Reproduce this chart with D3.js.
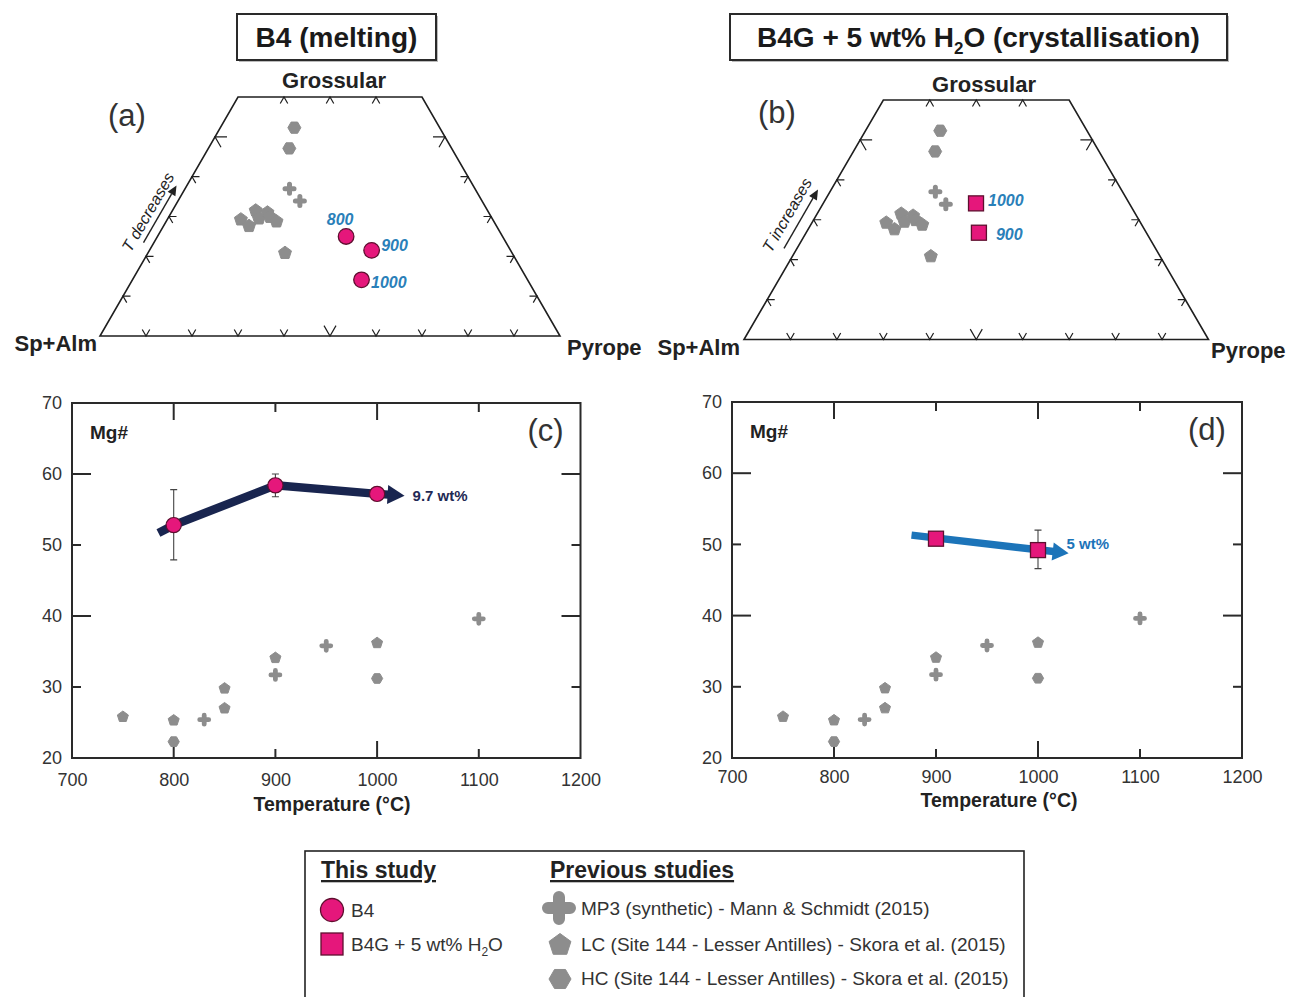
<!DOCTYPE html>
<html><head><meta charset="utf-8">
<script src="https://cdn.jsdelivr.net/npm/d3@7"></script>
<style>
body{margin:0;background:#fff}
svg{display:block}
text{font-family:"Liberation Sans",Arial,Helvetica,sans-serif}
</style>
</head><body><svg id="chart" width="1290" height="997"></svg>
<script>
// ---------------- DATA ----------------
// Mg# vs temperature panels
const mgTicksY = [20, 30, 40, 50, 60, 70];
const mgTicksX = [700, 800, 900, 1000, 1100, 1200];
const mgMajorX = [800, 1000];
const mgMinorX = [900, 1100];
const mgMajorY = [40, 60];
const mgMinorY = [30, 50];

const mp3T = [830, 900, 950, 1100];
const mp3Mg = [25.4, 31.7, 35.8, 39.6];
const lcT = [750, 800, 850, 850, 900, 1000];
const lcMg = [25.8, 25.3, 27.0, 29.8, 34.1, 36.2];
const hcT = [800, 1000];
const hcMg = [22.3, 31.2];

const b4T = [800, 900, 1000];
const b4Mg = [52.8, 58.4, 57.2];
const b4ErrLo = [47.9, 56.8, 56.4];
const b4ErrHi = [57.8, 60.0, 58.0];
const b4ArrowT = [785, 800, 900, 1000, 1027];
const b4ArrowMg = [51.7, 52.8, 58.4, 57.2, 56.95];
const b4ArrowLabel = "9.7 wt%";

const b4gT = [900, 1000];
const b4gMg = [50.8, 49.2];
const b4gErrLo = [null, 46.6];
const b4gErrHi = [null, 52.0];
const b4gArrowT = [876, 1030];
const b4gArrowMg = [51.3, 48.75];
const b4gArrowLabel = "5 wt%";

// Ternary (Grossular / Pyrope fractions; Sp+Alm = rest)
const terMP3Gr = [0.370, 0.339];
const terMP3Py = [0.227, 0.265];
const terLCGr = [0.2925, 0.276, 0.315, 0.295, 0.310, 0.299, 0.2875, 0.2084];
const terLCPy = [0.160, 0.186, 0.181, 0.198, 0.209, 0.220, 0.240, 0.298];
const terHCGr = [0.523, 0.471];
const terHCPy = [0.161, 0.176];

const terB4Label = ["800", "900", "1000"];
const terB4Gr = [0.250, 0.215, 0.141];
const terB4Py = [0.410, 0.483, 0.498];

const terB4gLabel = ["1000", "900"];
const terB4gGr = [0.341, 0.2675];
const terB4gPy = [0.329, 0.372];

const terBottomTicks = [0.1, 0.2, 0.3, 0.4, 0.5, 0.6, 0.7, 0.8, 0.9];
const terSideTicks = [0.1, 0.2, 0.3, 0.4, 0.5];
const terTopTicks = [0.1, 0.2, 0.3];
const terGrMax = 0.6;

// ---------------- STYLE ----------------
const GRAY = "#8d8d8d";
const PINK = "#e5177b";
const PINK_STROKE = "#5e0f2f";
const NAVY = "#19254f";
const BLUE = "#1c74b9";
const LBLUE = "#2a80b9";
const INK = "#1f1f1f";
const TXT = "#333";

const svg = d3.select("#chart");

// ---------------- SHAPES ----------------
function polyPath(n, r, rot) {
  const pts = d3.range(n).map(i => {
    const a = rot + i * 2 * Math.PI / n;
    return [r * Math.cos(a), r * Math.sin(a)];
  });
  return d3.line().curve(d3.curveLinearClosed)(pts);
}
const pentagon = r => polyPath(5, r, -Math.PI / 2);
const hexagon = r => polyPath(6, r, 0);

function drawShape(g, d, x, y, fill, stroke, sw) {
  return g.append("path").attr("d", d).attr("transform", `translate(${x},${y})`)
    .attr("fill", fill).attr("stroke", stroke || fill).attr("stroke-width", sw || 1)
    .attr("stroke-linejoin", "round");
}
// rounded plus: two round-capped strokes
function drawCross(g, x, y, half, w) {
  return g.append("path").attr("d", `M${-half},0H${half}M0,${-half}V${half}`)
    .attr("transform", `translate(${x},${y})`).attr("fill", "none").attr("stroke", GRAY)
    .attr("stroke-width", w).attr("stroke-linecap", "round");
}

// ---------------- TITLE BOXES ----------------
function titleBox(x0, x1, y0, y1, build) {
  svg.append("rect").attr("x", x0 + 2).attr("y", y0 + 2).attr("width", x1 - x0).attr("height", y1 - y0)
    .attr("fill", "#bbb");
  svg.append("rect").attr("x", x0).attr("y", y0).attr("width", x1 - x0).attr("height", y1 - y0)
    .attr("fill", "#fff").attr("stroke", "#2a2a2a").attr("stroke-width", 2);
  const t = svg.append("text").attr("x", (x0 + x1) / 2).attr("y", (y0 + y1) / 2 + 10)
    .attr("text-anchor", "middle").attr("font-size", 28).attr("font-weight", "bold").attr("fill", "#1a1a1a");
  build(t);
}
titleBox(237, 436, 14, 60, t => t.text("B4 (melting)"));
titleBox(730, 1227, 14, 60, t => {
  t.append("tspan").text("B4G + 5 wt% H");
  t.append("tspan").attr("font-size", 17).attr("dy", 7).text("2");
  t.append("tspan").attr("dy", -7).text("O (crystallisation)");
});

// ---------------- TERNARY ----------------
function ternary(opt) {
  const g = svg.append("g");
  const tx = d3.scaleLinear().domain([0, 1]).range([opt.ax, opt.bx]); // u = py + gr/2
  const ty = d3.scaleLinear().domain([0, 1]).range([opt.by, opt.cy]); // gr
  const P = (gr, py) => [tx(py + gr / 2), ty(gr)];

  const A = P(0, 0), B = P(0, 1), TL = P(terGrMax, 0), TR = P(terGrMax, 1 - terGrMax), C = P(1, 0);
  g.append("path").attr("d", d3.line()([A, B, TR, TL]) + "Z")
    .attr("fill", "none").attr("stroke", INK).attr("stroke-width", 1.6).attr("stroke-linejoin", "miter");

  const unit = (p, q) => { const dx = q[0] - p[0], dy = q[1] - p[1], l = Math.hypot(dx, dy); return [dx / l, dy / l]; };
  const dAC = unit(A, C), dBC = unit(B, C), dAB = unit(A, B), dBA = unit(B, A), dCA = unit(C, A), dCB = unit(C, B);
  const tick = (p, d1, d2, L) => {
    g.append("path").attr("d", d3.line()([[p[0] + d1[0] * L, p[1] + d1[1] * L], p, [p[0] + d2[0] * L, p[1] + d2[1] * L]]))
      .attr("fill", "none").attr("stroke", INK).attr("stroke-width", 1.2);
  };
  terBottomTicks.forEach(v => tick(P(0, v), dAC, dBC, Math.abs(v - 0.5) < 1e-6 ? 12 : 7.5));
  terSideTicks.forEach(v => tick(P(v, 0), dAB, dCB, Math.abs(v - 0.5) < 1e-6 ? 12 : 7.5));
  terSideTicks.forEach(v => tick(P(v, 1 - v), dBA, dCA, Math.abs(v - 0.5) < 1e-6 ? 12 : 7.5));
  terTopTicks.forEach(v => tick(P(terGrMax, v), dCA, dCB, 7.5));

  // labels
  g.append("text").attr("x", opt.grossX).attr("y", opt.grossY + 8).attr("text-anchor", "middle")
    .attr("font-size", 22).attr("font-weight", "bold").attr("fill", "#222").text("Grossular");
  g.append("text").attr("x", opt.spX).attr("y", opt.spY + 8).attr("text-anchor", "end")
    .attr("font-size", 22).attr("font-weight", "bold").attr("fill", "#222").text("Sp+Alm");
  g.append("text").attr("x", opt.pyX).attr("y", opt.pyY + 8).attr("text-anchor", "start")
    .attr("font-size", 22).attr("font-weight", "bold").attr("fill", "#222").text("Pyrope");
  g.append("text").attr("x", opt.panX).attr("y", opt.panY + 11).attr("text-anchor", "middle")
    .attr("font-size", 31).attr("fill", TXT).text(opt.panel);

  // T arrow
  const ang = -60, rad = ang * Math.PI / 180;
  g.append("text").attr("transform", `translate(${opt.tTextX},${opt.tTextY}) rotate(${ang})`)
    .attr("text-anchor", "middle").attr("dy", "0.35em").attr("font-size", 16).attr("font-style", "italic")
    .attr("fill", "#222").text(opt.tText);
  const half = opt.tArrLen / 2, cx = opt.tArrX, cy = opt.tArrY;
  const s0 = [cx - Math.cos(rad) * half, cy - Math.sin(rad) * half];
  const s1 = [cx + Math.cos(rad) * half, cy + Math.sin(rad) * half];
  const hb = [s1[0] - Math.cos(rad) * 10, s1[1] - Math.sin(rad) * 10];
  g.append("line").attr("x1", s0[0]).attr("y1", s0[1]).attr("x2", hb[0]).attr("y2", hb[1])
    .attr("stroke", "#222").attr("stroke-width", 1.4);
  const nx = -Math.sin(rad), ny = Math.cos(rad);
  g.append("path").attr("d", d3.line()([s1, [hb[0] + nx * 4.5, hb[1] + ny * 4.5], [hb[0] - nx * 4.5, hb[1] - ny * 4.5]]) + "Z")
    .attr("fill", "#222");

  // gray data
  terLCGr.forEach((gr, i) => { const p = P(gr, terLCPy[i]); drawShape(g, pentagon(6.8), p[0], p[1], GRAY); });
  terHCGr.forEach((gr, i) => { const p = P(gr, terHCPy[i]); drawShape(g, hexagon(6.5), p[0], p[1], GRAY); });
  terMP3Gr.forEach((gr, i) => { const p = P(gr, terMP3Py[i]); drawCross(g, p[0], p[1], 4.5, 5); });
  return { g, P };
}

const ta = ternary({ ax: 100, bx: 560, by: 336, cy: -62.3, panel: "(a)", panX: 127, panY: 115,
  grossX: 334, grossY: 80, spX: 97, spY: 343, pyX: 567, pyY: 347,
  tText: "T decreases", tTextX: 148, tTextY: 212, tArrX: 160, tArrY: 214, tArrLen: 66 });
terB4Gr.forEach((gr, i) => {
  const p = ta.P(gr, terB4Py[i]);
  ta.g.append("circle").attr("cx", p[0]).attr("cy", p[1]).attr("r", 7.8)
    .attr("fill", PINK).attr("stroke", PINK_STROKE).attr("stroke-width", 1.3);
  const off = [[-6, -17, "middle"], [9.5, -4.5, "start"], [9.5, 2.5, "start"]][i];
  ta.g.append("text").attr("x", p[0] + off[0]).attr("y", p[1] + off[1]).attr("dy", "0.35em")
    .attr("text-anchor", off[2]).attr("font-size", 16).attr("font-weight", "bold").attr("font-style", "italic")
    .attr("fill", LBLUE).text(terB4Label[i]);
});

const tb = ternary({ ax: 744, bx: 1208.5, by: 339.5, cy: -59.7, panel: "(b)", panX: 777, panY: 112,
  grossX: 984, grossY: 84, spX: 740, spY: 347, pyX: 1211, pyY: 350,
  tText: "T increases", tTextX: 787, tTextY: 215, tArrX: 801, tArrY: 219, tArrLen: 68 });
terB4gGr.forEach((gr, i) => {
  const p = tb.P(gr, terB4gPy[i]);
  tb.g.append("rect").attr("x", p[0] - 7.5).attr("y", p[1] - 7.5).attr("width", 15).attr("height", 15)
    .attr("fill", PINK).attr("stroke", PINK_STROKE).attr("stroke-width", 1.3);
  const off = [[12, -3], [17, 2]][i];
  tb.g.append("text").attr("x", p[0] + off[0]).attr("y", p[1] + off[1]).attr("dy", "0.35em")
    .attr("font-size", 16).attr("font-weight", "bold").attr("font-style", "italic")
    .attr("fill", LBLUE).text(terB4gLabel[i]);
});

// ---------------- Mg# PANELS ----------------
function mgPanel(opt) {
  const g = svg.append("g");
  const x = d3.scaleLinear().domain([700, 1200]).range([opt.x0, opt.x1]);
  const y = d3.scaleLinear().domain([20, 70]).range([opt.y1, opt.y0]);

  const tl = (x1, y1, x2, y2) => g.append("line").attr("x1", x1).attr("y1", y1).attr("x2", x2).attr("y2", y2)
    .attr("stroke", "#2a2a2a").attr("stroke-width", 2);
  mgMajorX.forEach(v => { tl(x(v), opt.y0, x(v), opt.y0 + 17); tl(x(v), opt.y1, x(v), opt.y1 - 17); });
  mgMinorX.forEach(v => { tl(x(v), opt.y0, x(v), opt.y0 + 9); tl(x(v), opt.y1, x(v), opt.y1 - 9); });
  mgMajorY.forEach(v => { tl(opt.x0, y(v), opt.x0 + 19, y(v)); tl(opt.x1, y(v), opt.x1 - 19, y(v)); });
  mgMinorY.forEach(v => { tl(opt.x0, y(v), opt.x0 + 9, y(v)); tl(opt.x1, y(v), opt.x1 - 9, y(v)); });

  g.append("rect").attr("x", opt.x0).attr("y", opt.y0).attr("width", opt.x1 - opt.x0).attr("height", opt.y1 - opt.y0)
    .attr("fill", "none").attr("stroke", "#2a2a2a").attr("stroke-width", 2);

  const ax = g.append("g").attr("transform", `translate(0,${opt.y1})`)
    .call(d3.axisBottom(x).tickValues(mgTicksX).tickSize(0).tickPadding(opt.xPad).tickFormat(d3.format("d")));
  const ay = g.append("g").attr("transform", `translate(${opt.x0},0)`)
    .call(d3.axisLeft(y).tickValues(mgTicksY).tickSize(0).tickPadding(10).tickFormat(d3.format("d")));
  [ax, ay].forEach(a => {
    a.select(".domain").remove();
    a.selectAll("text").attr("font-size", 18).attr("fill", TXT)
      .attr("font-family", '"Liberation Sans",Arial,sans-serif');
  });

  g.append("text").attr("x", opt.xlabX).attr("y", opt.xlabY).attr("text-anchor", "middle")
    .attr("font-size", 19.5).attr("font-weight", "bold").attr("fill", "#222").text("Temperature (°C)");
  g.append("text").attr("x", opt.x0 + 18).attr("y", opt.y0 + 36).attr("font-size", 19)
    .attr("font-weight", "bold").attr("fill", "#222").text("Mg#");
  g.append("text").attr("x", opt.x1 - 35).attr("y", opt.y0 + 38).attr("text-anchor", "middle")
    .attr("font-size", 31).attr("fill", TXT).text(opt.panel);

  // gray literature data
  lcT.forEach((t, i) => drawShape(g, pentagon(5.8), x(t), y(lcMg[i]), GRAY));
  hcT.forEach((t, i) => drawShape(g, hexagon(5.6), x(t), y(hcMg[i]), GRAY));
  mp3T.forEach((t, i) => drawCross(g, x(t), y(mp3Mg[i]), 4.5, 4.8));
  return { g, x, y };
}

function errorBars(p, T, lo, hi) {
  T.forEach((t, i) => {
    if (lo[i] == null) return;
    const xx = p.x(t), ya = p.y(lo[i]), yb = p.y(hi[i]);
    p.g.append("path").attr("d", `M${xx},${ya}V${yb}M${xx - 3.5},${ya}H${xx + 3.5}M${xx - 3.5},${yb}H${xx + 3.5}`)
      .attr("fill", "none").attr("stroke", "#444").attr("stroke-width", 1.1);
  });
}

function arrow(p, T, M, color, width, headLen, headHalf) {
  const pts = T.map((t, i) => [p.x(t), p.y(M[i])]);
  const tip = pts[pts.length - 1], prev = pts[pts.length - 2];
  const dx = tip[0] - prev[0], dy = tip[1] - prev[1], l = Math.hypot(dx, dy);
  const ux = dx / l, uy = dy / l;
  const base = [tip[0] - ux * headLen, tip[1] - uy * headLen];
  const line = pts.slice(0, -1).concat([[base[0] + ux * 1, base[1] + uy * 1]]);
  p.g.append("path").attr("d", d3.line()(line)).attr("fill", "none").attr("stroke", color)
    .attr("stroke-width", width).attr("stroke-linejoin", "round");
  p.g.append("path").attr("d", d3.line()([tip, [base[0] - uy * headHalf, base[1] + ux * headHalf],
    [base[0] + uy * headHalf, base[1] - ux * headHalf]]) + "Z").attr("fill", color);
  return tip;
}

const pc = mgPanel({ x0: 72, x1: 580.5, y0: 403, y1: 758, panel: "(c)", xPad: 15, xlabX: 332, xlabY: 811 });
errorBars(pc, b4T, b4ErrLo, b4ErrHi);
const tipC = arrow(pc, b4ArrowT, b4ArrowMg, NAVY, 8.5, 17, 9.5);
b4T.forEach((t, i) => pc.g.append("circle").attr("cx", pc.x(t)).attr("cy", pc.y(b4Mg[i])).attr("r", 7.6)
  .attr("fill", PINK).attr("stroke", PINK_STROKE).attr("stroke-width", 1.2));
pc.g.append("text").attr("x", tipC[0] + 8).attr("y", tipC[1]).attr("dy", "0.35em").attr("font-size", 15)
  .attr("font-weight", "bold").attr("fill", "#1f2a55").text(b4ArrowLabel);

const pd = mgPanel({ x0: 732, x1: 1242, y0: 402, y1: 758, panel: "(d)", xPad: 12, xlabX: 999, xlabY: 807 });
errorBars(pd, b4gT, b4gErrLo, b4gErrHi);
const tipD = arrow(pd, b4gArrowT, b4gArrowMg, BLUE, 7.5, 16, 9);
b4gT.forEach((t, i) => pd.g.append("rect").attr("x", pd.x(t) - 7.5).attr("y", pd.y(b4gMg[i]) - 7.5)
  .attr("width", 15).attr("height", 15).attr("fill", PINK).attr("stroke", PINK_STROKE).attr("stroke-width", 1.3));
pd.g.append("text").attr("x", tipD[0] - 2).attr("y", tipD[1] - 10).attr("dy", "0.35em").attr("font-size", 15)
  .attr("font-weight", "bold").attr("fill", BLUE).text(b4gArrowLabel);

// ---------------- LEGEND ----------------
const lg = svg.append("g");
lg.append("rect").attr("x", 305).attr("y", 851).attr("width", 719).attr("height", 160)
  .attr("fill", "#fff").attr("stroke", "#222").attr("stroke-width", 1.6);
lg.append("text").attr("x", 321).attr("y", 878).attr("font-size", 23).attr("font-weight", "bold")
  .attr("text-decoration", "underline").attr("fill", "#222").text("This study");
lg.append("text").attr("x", 550).attr("y", 878).attr("font-size", 23).attr("font-weight", "bold")
  .attr("text-decoration", "underline").attr("fill", "#222").text("Previous studies");
lg.append("circle").attr("cx", 332).attr("cy", 910).attr("r", 11.5).attr("fill", PINK)
  .attr("stroke", PINK_STROKE).attr("stroke-width", 1.3);
lg.append("text").attr("x", 351).attr("y", 917).attr("font-size", 19).attr("fill", TXT).text("B4");
lg.append("rect").attr("x", 321).attr("y", 933).attr("width", 22).attr("height", 22).attr("fill", PINK)
  .attr("stroke", PINK_STROKE).attr("stroke-width", 1.3);
const lt = lg.append("text").attr("x", 351).attr("y", 951).attr("font-size", 19).attr("fill", TXT);
lt.append("tspan").text("B4G + 5 wt% H");
lt.append("tspan").attr("font-size", 12).attr("dy", 5).text("2");
lt.append("tspan").attr("dy", -5).text("O");
drawCross(lg, 559, 908, 11, 12);
drawShape(lg, pentagon(11.5), 560, 945, GRAY);
drawShape(lg, hexagon(11), 560, 979, GRAY);
[["MP3 (synthetic) - Mann & Schmidt (2015)", 915],
 ["LC (Site 144 - Lesser Antilles) - Skora et al. (2015)", 951],
 ["HC (Site 144 - Lesser Antilles) - Skora et al. (2015)", 985]].forEach(d => {
  lg.append("text").attr("x", 581).attr("y", d[1]).attr("font-size", 19).attr("fill", TXT).text(d[0]);
});
</script>
</body></html>
